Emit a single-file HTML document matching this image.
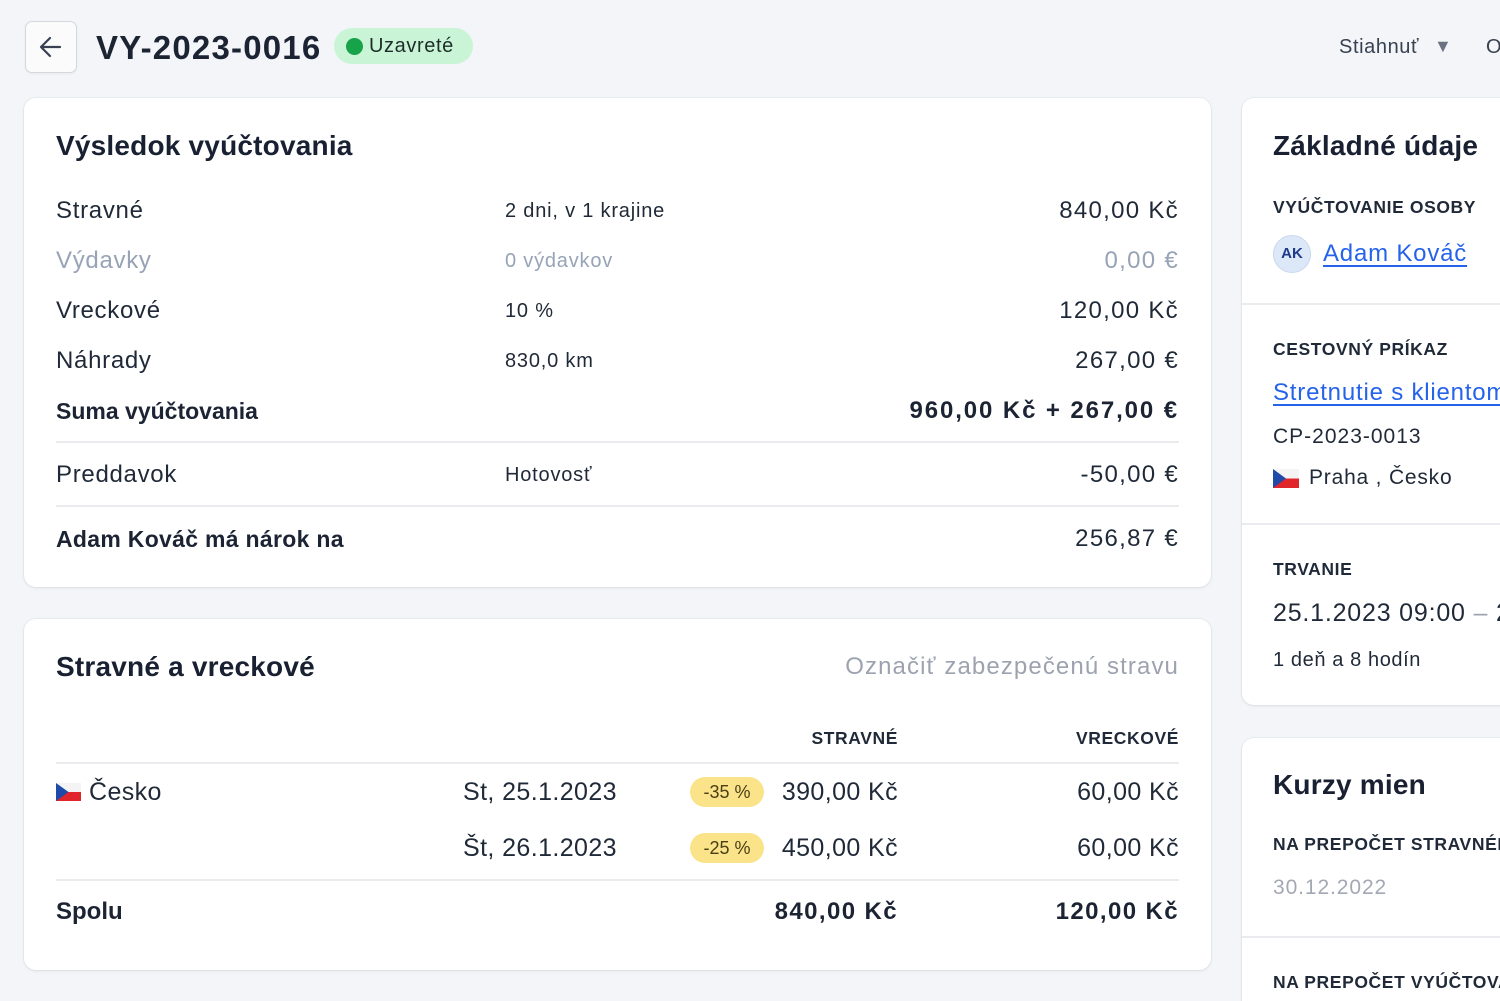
<!DOCTYPE html>
<html><head><meta charset="utf-8">
<style>
*{margin:0;padding:0;box-sizing:border-box}
html,body{width:1500px;height:1001px;overflow:hidden;background:#f3f5f8;font-family:"Liberation Sans",Arial,sans-serif;color:#1f2937}
#w{position:relative;width:1500px;height:1001px;overflow:hidden}
.a{position:absolute;white-space:nowrap;line-height:30px;height:30px}
.card{position:absolute;background:#fff;border-radius:12px;box-shadow:0 1px 3px rgba(15,23,42,0.08),0 0 0 1px rgba(15,23,42,0.03)}
.h{font-weight:bold;font-size:28px;color:#182032;letter-spacing:0.2px}
.r{font-size:24px;letter-spacing:0.7px}
.m{font-size:20px;letter-spacing:0.8px}
.n{font-size:24px;letter-spacing:1.3px;text-align:right}
.g{color:#97a3b6}
.b{font-weight:bold;color:#1c2434}
.cap{font-size:17.5px;font-weight:bold;letter-spacing:0.6px;color:#1f2937}
.line{position:absolute;height:2px;background:#e9ebef}
.t{font-size:25px;letter-spacing:0.4px}
.lnk{color:#2563eb;text-decoration:underline;text-decoration-thickness:2px;text-underline-offset:4px}
.flag{position:absolute;overflow:hidden}
.badge{position:absolute;background:#fbe38a;border-radius:15px;font-size:18px;color:#4a3f14;text-align:center;line-height:30px;height:30px}
</style></head><body><div id="w">

<!-- header -->
<div style="position:absolute;left:25px;top:21px;width:52px;height:52px;border:1px solid #d4d8de;border-radius:7px;background:#fbfbfc;box-shadow:0 1px 2px rgba(0,0,0,0.05)"></div>
<svg style="position:absolute;left:38px;top:35px" width="26" height="24" viewBox="0 0 26 24"><path d="M22 12H4M12 3L3 12l9 9" fill="none" stroke="#374151" stroke-width="2.2" stroke-linecap="round" stroke-linejoin="round"/></svg>
<div class="a" style="left:96px;top:30px;height:36px;line-height:36px;font-size:33px;font-weight:bold;letter-spacing:1.2px;color:#1c2434">VY-2023-0016</div>
<div style="position:absolute;left:334px;top:28px;width:139px;height:36px;border-radius:18px;background:#c9f5d6"></div>
<div style="position:absolute;left:346px;top:38px;width:17px;height:17px;border-radius:50%;background:#16a34a"></div>
<div class="a" style="left:369px;top:31px;font-size:20px;letter-spacing:0.6px;color:#1f2d2a">Uzavreté</div>
<div class="a" style="left:1339px;top:32px;font-size:20px;letter-spacing:0.6px;color:#374151">Stiahnuť</div>
<div class="a" style="left:1434px;top:31px;font-size:18px;color:#6b7280">▼</div>
<div class="a" style="left:1486px;top:32px;font-size:20px;color:#374151">O</div>

<!-- card 1 -->
<div class="card" style="left:24px;top:98px;width:1187px;height:489px"></div>
<div class="a h" style="left:56px;top:131px">Výsledok vyúčtovania</div>

<div class="a r" style="left:56px;top:196px">Stravné</div>
<div class="a r g" style="left:56px;top:246px">Výdavky</div>
<div class="a r" style="left:56px;top:296px">Vreckové</div>
<div class="a r" style="left:56px;top:346px">Náhrady</div>
<div class="a b" style="left:56px;top:396px;font-size:23px">Suma vyúčtovania</div>
<div class="a r" style="left:56px;top:460px">Preddavok</div>
<div class="a b" style="left:56px;top:524px;font-size:23px;letter-spacing:0.3px">Adam Kováč má nárok na</div>

<div class="a m" style="left:505px;top:196px">2 dni, v 1 krajine</div>
<div class="a m g" style="left:505px;top:246px">0 výdavkov</div>
<div class="a m" style="left:505px;top:296px">10 %</div>
<div class="a m" style="left:505px;top:346px">830,0 km</div>
<div class="a m" style="left:505px;top:460px">Hotovosť</div>

<div class="a n" style="right:321px;top:196px">840,00 Kč</div>
<div class="a n g" style="right:321px;top:246px">0,00 €</div>
<div class="a n" style="right:321px;top:296px">120,00 Kč</div>
<div class="a n" style="right:321px;top:346px">267,00 €</div>
<div class="a n b" style="right:321px;top:396px;font-size:24px;letter-spacing:1.9px">960,00 Kč + 267,00 €</div>
<div class="a n" style="right:321px;top:460px">-50,00 €</div>
<div class="a n" style="right:321px;top:524px">256,87 €</div>

<div class="line" style="left:56px;top:441px;width:1123px"></div>
<div class="line" style="left:56px;top:505px;width:1123px"></div>

<!-- card 2 -->
<div class="card" style="left:24px;top:619px;width:1187px;height:351px"></div>
<div class="a h" style="left:56px;top:652px">Stravné a vreckové</div>
<div class="a" style="right:321px;top:652px;font-size:24px;letter-spacing:1.1px;color:#9ca3af">Označiť zabezpečenú stravu</div>

<div class="a cap" style="right:602px;top:723px">STRAVNÉ</div>
<div class="a cap" style="right:321px;top:723px">VRECKOVÉ</div>
<div class="line" style="left:56px;top:762px;width:1123px"></div>

<div class="flag" style="left:56px;top:783px;width:25px;height:18px">
<svg width="25" height="18" viewBox="0 0 25 18"><rect width="25" height="9" fill="#f4f4f4"/><rect y="9" width="25" height="9" fill="#e0262b"/><path d="M0 0L12.5 9L0 18Z" fill="#1f4aa8"/></svg></div>
<div class="a t" style="left:89px;top:777px">Česko</div>
<div class="a t" style="left:463px;top:777px">St, 25.1.2023</div>
<div class="badge" style="left:690px;top:777px;width:74px">-35 %</div>
<div class="a t" style="right:602px;top:777px;text-align:right">390,00 Kč</div>
<div class="a t" style="right:321px;top:777px;text-align:right">60,00 Kč</div>

<div class="a t" style="left:463px;top:833px">Št, 26.1.2023</div>
<div class="badge" style="left:690px;top:833px;width:74px">-25 %</div>
<div class="a t" style="right:602px;top:833px;text-align:right">450,00 Kč</div>
<div class="a t" style="right:321px;top:833px;text-align:right">60,00 Kč</div>

<div class="line" style="left:56px;top:879px;width:1123px"></div>
<div class="a b" style="left:56px;top:897px;font-size:24px">Spolu</div>
<div class="a b" style="right:602px;top:897px;font-size:24px;letter-spacing:1.4px">840,00 Kč</div>
<div class="a b" style="right:321px;top:897px;font-size:24px;letter-spacing:1.4px">120,00 Kč</div>

<!-- right card 1 -->
<div class="card" style="left:1242px;top:98px;width:400px;height:607px"></div>
<div class="a h" style="left:1273px;top:131px">Základné údaje</div>
<div class="a cap" style="left:1273px;top:192px">VYÚČTOVANIE OSOBY</div>
<div style="position:absolute;left:1273px;top:235px;width:38px;height:38px;border-radius:50%;background:#dce7f8;border:1px solid #c9d8f0;text-align:center;line-height:36px;font-size:15px;font-weight:bold;color:#1e3a8a">AK</div>
<div class="a lnk" style="left:1323px;top:239px;font-size:24px;letter-spacing:0.8px">Adam Kováč</div>
<div class="line" style="left:1242px;top:303px;width:260px"></div>
<div class="a cap" style="left:1273px;top:334px">CESTOVNÝ PRÍKAZ</div>
<div class="a lnk" style="left:1273px;top:378px;font-size:24px;letter-spacing:0.8px">Stretnutie s klientom</div>
<div class="a" style="left:1273px;top:422px;font-size:21px;letter-spacing:1px">CP-2023-0013</div>
<div class="flag" style="left:1273px;top:469px;width:26px;height:19px">
<svg width="26" height="19" viewBox="0 0 26 19"><rect width="26" height="9.5" fill="#f4f4f4"/><rect y="9.5" width="26" height="9.5" fill="#e0262b"/><path d="M0 0L13 9.5L0 19Z" fill="#1f4aa8"/></svg></div>
<div class="a" style="left:1309px;top:463px;font-size:21px;letter-spacing:0.8px">Praha , Česko</div>
<div class="line" style="left:1242px;top:523px;width:260px"></div>
<div class="a cap" style="left:1273px;top:554px">TRVANIE</div>
<div class="a" style="left:1273px;top:598px;font-size:25px;letter-spacing:0.8px">25.1.2023 09:00 <span style="color:#9ca3af">–</span> 26.1.2023</div>
<div class="a" style="left:1273px;top:645px;font-size:20px;letter-spacing:0.6px">1 deň a 8 hodín</div>

<!-- right card 2 -->
<div class="card" style="left:1242px;top:738px;width:400px;height:300px"></div>
<div class="a h" style="left:1273px;top:770px">Kurzy mien</div>
<div class="a cap" style="left:1273px;top:829px">NA PREPOČET STRAVNÉHO</div>
<div class="a" style="left:1273px;top:873px;font-size:21px;letter-spacing:0.9px;color:#a3a9b3">30.12.2022</div>
<div class="line" style="left:1242px;top:936px;width:260px"></div>
<div class="a cap" style="left:1273px;top:967px">NA PREPOČET VYÚČTOVANIA</div>

</div></body></html>
